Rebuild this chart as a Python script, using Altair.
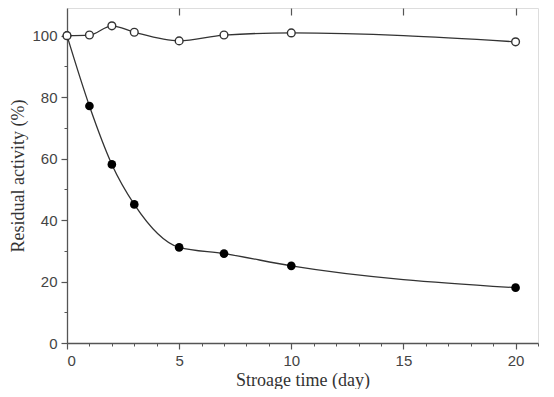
import altair as alt
import pandas as pd

days = [0, 1, 2, 3, 5, 7, 10, 20]
activity_open = [100, 100.2, 103.2, 101.1, 98.3, 100.2, 100.9, 98.0]
activity_filled = [100, 77.1, 58.1, 45.1, 31.1, 29.1, 25.1, 18.0]

x_major = [0, 5, 10, 15, 20]
x_minor = list(range(0, 22))
x_top = [5, 10, 15, 20]
y_major = [0, 20, 40, 60, 80, 100]
y_minor = [10, 30, 50, 70, 90]

df_open = pd.DataFrame({"day": days, "act": activity_open})
df_filled = pd.DataFrame({"day": days, "act": activity_filled})

W, H = 471, 335
xs = alt.Scale(domain=[0, 21], nice=False, zero=False)
ys = alt.Scale(domain=[0, 109], nice=False, zero=False)

AX = "#555555"
LAB = dict(labelFont="Liberation Sans", labelFontSize=15, labelColor="#444444")
TIT = dict(titleFont="Liberation Serif", titleFontSize=18, titleFontWeight="normal", titleColor="#333333")

x_main = alt.X("day:Q", scale=xs, axis=alt.Axis(
    orient="bottom", values=x_major, tickSize=6, tickColor=AX, domainColor=AX, domainWidth=1.3,
    tickWidth=1.2, labelPadding=4, title="Stroage time (day)", titlePadding=3, grid=False,
    format="d", **LAB, **TIT))
y_main = alt.Y("act:Q", scale=ys, axis=alt.Axis(
    orient="left", values=y_major, tickSize=6, tickColor=AX, domainColor=AX, domainWidth=1.3,
    tickWidth=1.2, labelPadding=4, title="Residual activity (%)", titlePadding=4, grid=False,
    format="d", **LAB, **TIT))

x_minor_ax = alt.X("day:Q", scale=xs, axis=alt.Axis(
    orient="bottom", values=x_minor, tickSize=3, tickColor=AX, tickWidth=1, domain=False,
    labels=False, title=None, grid=False))
y_minor_ax = alt.Y("act:Q", scale=ys, axis=alt.Axis(
    orient="left", values=y_minor, tickSize=3, tickColor=AX, tickWidth=1, domain=False,
    labels=False, title=None, grid=False))

x_top_ax = alt.X("day:Q", scale=xs, axis=alt.Axis(
    orient="bottom", offset=-H, values=x_top, tickSize=7, tickColor=AX, tickWidth=1.2,
    domain=False, labels=False, title=None, grid=False))
y_none = alt.Y("act:Q", scale=ys, axis=None)
x_none = alt.X("day:Q", scale=xs, axis=None)

line_filled = alt.Chart(df_filled).mark_line(
    interpolate="monotone", color="#333333", strokeWidth=1.3).encode(x=x_main, y=y_main)
line_open = alt.Chart(df_open).mark_line(
    interpolate="monotone", color="#333333", strokeWidth=1.3).encode(x=x_minor_ax, y=y_minor_ax)
pts_filled = alt.Chart(df_filled).mark_point(
    filled=True, shape="circle", size=75, color="#000000", opacity=1).encode(x=x_top_ax, y=y_none)
pts_open = alt.Chart(df_open).mark_point(
    shape="circle", size=60, fill="#ffffff", stroke="#333333", strokeWidth=1.4, opacity=1,
    fillOpacity=1).encode(x=x_none, y=y_none)

chart = alt.layer(line_filled, line_open, pts_filled, pts_open).resolve_axis(
    x="independent", y="independent"
).properties(
    width=W, height=H,
    autosize=alt.AutoSizeParams(type="none"),
    padding={"left": 59, "top": 0, "right": 8, "bottom": 46},
).configure_view(stroke=AX, strokeWidth=1.3).configure(background="white")

chart.save("out.html", embed_options={"renderer": "svg", "actions": False})
